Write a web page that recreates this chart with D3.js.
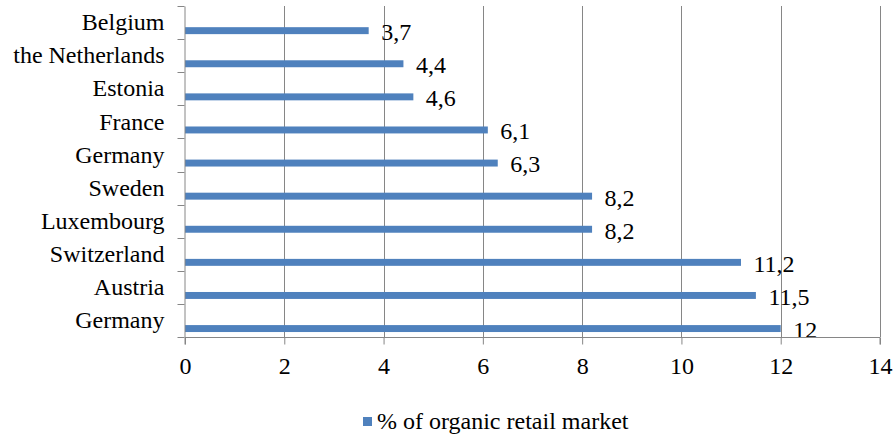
<!DOCTYPE html>
<html>
<head>
<meta charset="utf-8">
<script src="https://cdn.jsdelivr.net/npm/d3@7"></script>
</head>
<body style="margin:0;background:#fff">
<svg id="chart" width="893" height="436"></svg>
<script>
// Share of organic products in the retail market, by country
const countries = ["Belgium", "the Netherlands", "Estonia", "France", "Germany",
                   "Sweden", "Luxembourg", "Switzerland", "Austria", "Germany"];
const shares = [3.7, 4.4, 4.6, 6.1, 6.3, 8.2, 8.2, 11.2, 11.5, 12];
const xTicks = [0, 2, 4, 6, 8, 10, 12, 14];
const seriesName = "% of organic retail market";

const barColor = "#4F81BD";
const gridColor = "#868686";
const fontSize = 24;
const fontFamily = "'Liberation Serif'";

const svg = d3.select("#chart");

const rows = countries.map((c, i) => ({ key: i, name: c, value: shares[i] }));

const x = d3.scaleLinear().domain([0, 14]).range([185, 880]);
const y = d3.scaleBand().domain(rows.map(d => d.key)).range([6, 337]).paddingInner(0).paddingOuter(0);
const bw = y.bandwidth();

const styleText = sel => sel
  .style("font-family", fontFamily)
  .attr("font-size", fontSize)
  .attr("fill", "#000");

// vertical gridlines
svg.append("g")
  .selectAll("line")
  .data(xTicks.slice(1))
  .join("line")
  .attr("x1", d => Math.round(x(d)) + 0.5)
  .attr("x2", d => Math.round(x(d)) + 0.5)
  .attr("y1", 6)
  .attr("y2", 337)
  .attr("stroke", gridColor)
  .attr("stroke-width", 1);

// bars
svg.append("g")
  .selectAll("rect")
  .data(rows)
  .join("rect")
  .attr("x", x(0))
  .attr("y", d => y(d.key) + bw * 0.64)
  .attr("width", d => x(d.value) - x(0))
  .attr("height", bw * 0.21)
  .attr("fill", barColor);

// value labels
svg.append("g")
  .selectAll("text")
  .data(rows)
  .join("text")
  .attr("x", d => x(d.value) + 12.5)
  .attr("y", d => y(d.key) + bw * 0.745 + 1)
  .attr("dy", "0.35em")
  .call(styleText)
  .text(d => String(d.value).replace(".", ","));

// category axis
const yAxis = d3.axisLeft(y)
  .tickSize(0)
  .tickPadding(20)
  .tickFormat(k => rows[k].name);
const gy = svg.append("g")
  .attr("transform", `translate(${Math.round(x(0)) - 0.5},0)`)
  .call(yAxis);
gy.attr("font-family", null).attr("font-size", null);
gy.select(".domain").attr("stroke", gridColor);
gy.selectAll("text").call(styleText);
// band boundary tick marks
gy.append("g")
  .selectAll("line")
  .data(d3.range(rows.length + 1))
  .join("line")
  .attr("x1", -7)
  .attr("x2", 0)
  .attr("y1", i => Math.round(6 + i * bw) + 0.5)
  .attr("y2", i => Math.round(6 + i * bw) + 0.5)
  .attr("stroke", gridColor);

// value axis
const xAxis = d3.axisBottom(x)
  .tickValues(xTicks)
  .tickSize(7)
  .tickPadding(12)
  .tickFormat(d3.format("d"));
const gx = svg.append("g")
  .attr("transform", "translate(0,337.5)")
  .call(xAxis);
gx.attr("font-family", null).attr("font-size", null);
gx.select(".domain").attr("stroke", gridColor).attr("d", `M${x(0)},7V0H${x(14)}V7`);
gx.selectAll(".tick line").attr("stroke", gridColor);
gx.selectAll("text").call(styleText);

// legend
const legend = svg.append("g").attr("transform", "translate(363,417)");
legend.append("rect")
  .attr("width", 9)
  .attr("height", 9)
  .attr("fill", barColor);
legend.append("text")
  .attr("x", 14)
  .attr("y", 12)
  .call(styleText)
  .text(seriesName);
</script>
</body>
</html>
